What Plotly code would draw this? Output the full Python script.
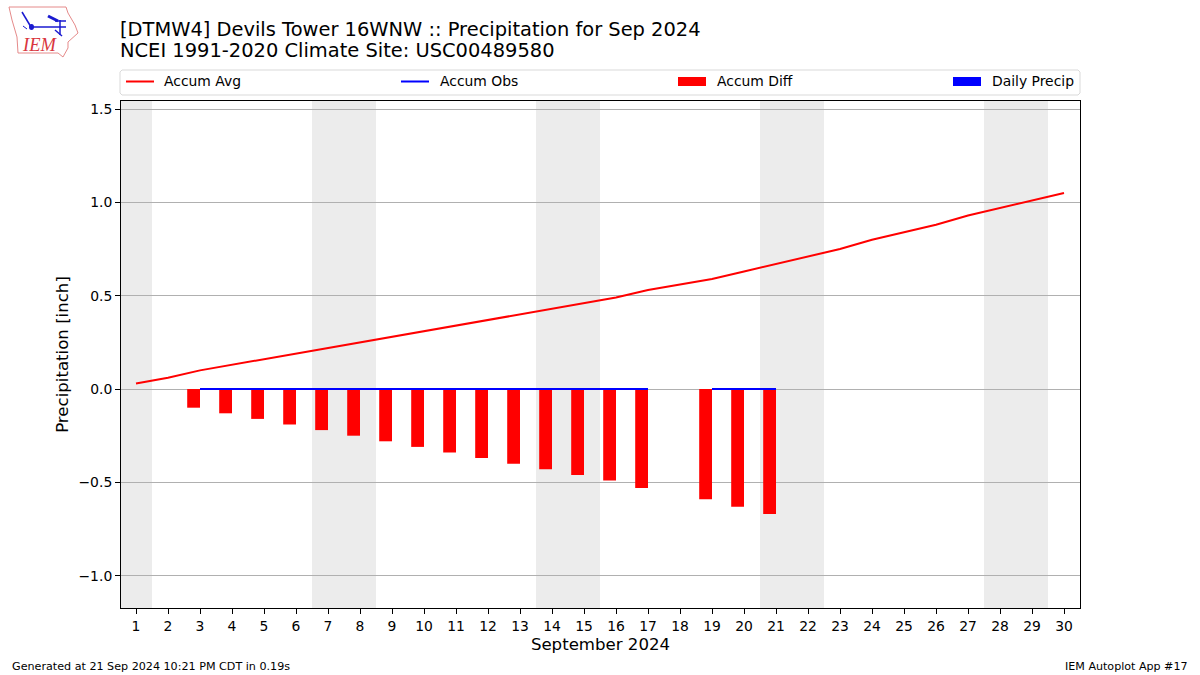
import plotly.graph_objects as go

W, H = 1200, 675
L, R, T, B = 121, 1080, 101, 608
FONT = "DejaVu Sans"

days = list(range(1, 31))
tick_days = days
accum_avg = [0.03, 0.06, 0.10, 0.13, 0.16, 0.19, 0.22, 0.25, 0.28, 0.31,
             0.34, 0.37, 0.40, 0.43, 0.46, 0.49, 0.53, 0.56, 0.59, 0.63,
             0.67, 0.71, 0.75, 0.80, 0.84, 0.88, 0.93, 0.97, 1.01, 1.05]
accum_obs = [None, None, 0, 0, 0, 0, 0, 0, 0, 0,
             0, 0, 0, 0, 0, 0, 0, None, 0, 0,
             0, None, None, None, None, None, None, None, None, None]
accum_diff = [None, None, -0.10, -0.13, -0.16, -0.19, -0.22, -0.25, -0.28, -0.31,
              -0.34, -0.37, -0.40, -0.43, -0.46, -0.49, -0.53, None, -0.59, -0.63,
              -0.67, None, None, None, None, None, None, None, None, None]
daily_precip = [None, None, 0, 0, 0, 0, 0, 0, 0, 0,
                0, 0, 0, 0, 0, 0, 0, None, 0, 0,
                0, None, None, None, None, None, None, None, None, None]
weekends = [(0.5, 1.5), (6.5, 8.5), (13.5, 15.5), (20.5, 22.5), (27.5, 29.5)]
y_ticks = [-1.0, -0.5, 0.0, 0.5, 1.0, 1.5]
title_lines = ["[DTMW4] Devils Tower 16WNW :: Precipitation for Sep 2024",
               "NCEI 1991-2020 Climate Site: USC00489580"]
legend_items = [("Accum Avg", "line", "#ff0000", 126, 162.5),
                ("Accum Obs", "line", "#0000ff", 401, 438.5),
                ("Accum Diff", "box", "#ff0000", 678, 715.5),
                ("Daily Precip", "box", "#0000ff", 953, 990.5)]


def px(x):
    return x / W


def py(y):
    return 1 - y / H


# paper coordinates relative to plot area
def ax_x(x):
    return (x - L) / (R - L)


def ax_y(y):
    return (B - y) / (B - T)


def path(points, close=False):
    s = "M" + " L".join(f"{ax_x(x):.5f},{ax_y(y):.5f}" for x, y in points)
    return s + (" Z" if close else "")


fig = go.Figure()
fig.add_bar(x=days, y=accum_diff, name="Accum Diff", marker_color="#ff0000",
            marker_line_width=0, width=0.4, offset=-0.4, showlegend=False)
fig.add_bar(x=days, y=daily_precip, name="Daily Precip", marker_color="#0000ff",
            marker_line_width=0, width=0.4, offset=0, showlegend=False)
fig.add_scatter(x=days, y=accum_avg, name="Accum Avg", mode="lines",
                line=dict(color="#ff0000", width=2), showlegend=False)
fig.add_scatter(x=days, y=accum_obs, name="Accum Obs", mode="lines",
                line=dict(color="#0000ff", width=2), showlegend=False)

shapes = []
for a, b in weekends:
    shapes.append(dict(type="rect", xref="x", yref="paper", x0=a, x1=b, y0=0, y1=1,
                       fillcolor="#ececec", line_width=0, layer="below"))

# legend frame
shapes.append(dict(type="path", xref="paper", yref="paper", layer="above",
                   path=path([(122, 70), (1078, 70), (1080, 72), (1080, 93), (1078, 95),
                              (122, 95), (120, 93), (120, 72)], True),
                   line=dict(color="#d9d9d9", width=1), fillcolor="white"))
annotations = []
for label, kind, color, x0, xt in legend_items:
    if kind == "line":
        shapes.append(dict(type="line", xref="paper", yref="paper", layer="above",
                           x0=ax_x(x0), x1=ax_x(x0 + 28), y0=ax_y(81.5), y1=ax_y(81.5),
                           line=dict(color=color, width=2)))
    else:
        shapes.append(dict(type="rect", xref="paper", yref="paper", layer="above",
                           x0=ax_x(x0), x1=ax_x(x0 + 28), y0=ax_y(77), y1=ax_y(86),
                           fillcolor=color, line_width=0))
    annotations.append(dict(text=label, xref="paper", yref="paper", x=ax_x(xt),
                            y=ax_y(81.5), xanchor="left", yanchor="middle", showarrow=False,
                            borderpad=0, font=dict(family=FONT, size=13.9, color="black")))

# logo
outline = [(9, 7), (66, 7), (68, 13), (75, 25), (78, 33), (68, 42), (68, 48),
           (63, 57), (58, 53), (18, 53), (17, 37), (12, 20)]
shapes.append(dict(type="path", xref="paper", yref="paper", layer="above",
                   path=path(outline, True), line=dict(color="#e58a8a", width=1)))
for pts, w in [([(31, 27), (66, 27)], 1.5), ([(31, 27), (22, 12)], 1.5), ([(60, 20), (60, 35)], 1.5),
               ([(48, 16), (58, 21)], 3), ([(55, 21), (66, 21)], 1.5), ([(23, 26), (27, 29)], 1),
               ([(55, 30), (62, 36)], 1.5)]:
    shapes.append(dict(type="path", xref="paper", yref="paper", layer="above",
                       path=path(pts), line=dict(color="#1a1ad0", width=w)))
shapes.append(dict(type="circle", xref="paper", yref="paper", layer="above",
                   x0=ax_x(29), x1=ax_x(34), y0=ax_y(24), y1=ax_y(30),
                   fillcolor="#1a1ad0", line_width=0))
annotations.append(dict(text="<i>IEM</i>", xref="paper", yref="paper", x=ax_x(21), y=ax_y(45),
                        xanchor="left", yanchor="middle", showarrow=False, borderpad=0,
                        font=dict(family="Liberation Serif", size=18.5, color="#d9363e")))

annotations.append(dict(text=title_lines[1], xref="paper", yref="paper", x=ax_x(119), y=ax_y(50.5),
                        xanchor="left", yanchor="middle", showarrow=False, borderpad=0,
                        font=dict(family=FONT, size=19.45, color="black")))
annotations.append(dict(text="Generated at 21 Sep 2024 10:21 PM CDT in 0.19s", xref="paper", yref="paper",
                        x=ax_x(10.5), y=ax_y(666), xanchor="left", yanchor="middle", showarrow=False,
                        borderpad=0, font=dict(family=FONT, size=11.15, color="black")))
annotations.append(dict(text="IEM Autoplot App #17", xref="paper", yref="paper",
                        x=ax_x(1189), y=ax_y(666), xanchor="right", yanchor="middle", showarrow=False,
                        borderpad=0, font=dict(family=FONT, size=11.1, color="black")))

fig.update_layout(
    width=W, height=H, autosize=False,
    margin=dict(l=L, r=W - R, t=T, b=H - B, pad=0),
    paper_bgcolor="white", plot_bgcolor="white",
    font=dict(family=FONT, size=14, color="black"),
    barmode="overlay", showlegend=False, hovermode=False,
    title=dict(text=title_lines[0], x=px(120), y=py(29), xanchor="left", yanchor="middle",
               xref="container", font=dict(family=FONT, size=19.45, color="black")),
    shapes=shapes, annotations=annotations,
    xaxis=dict(range=[0.53125, 30.5], tickmode="array", tickvals=tick_days,
               ticktext=[str(d) for d in tick_days], ticks="outside", ticklen=5, tickwidth=1,
               tickcolor="black", showgrid=False, zeroline=False, showline=True,
               linecolor="black", linewidth=1, mirror=True,
               tickfont=dict(family=FONT, size=13.9),
               title=dict(text="September 2024", standoff=5,
                          font=dict(family=FONT, size=16.6))),
    yaxis=dict(range=[-1.173, 1.543], tickmode="array", tickvals=y_ticks,
               ticktext=[f"{v:.1f}".replace("-", "\u2212") for v in y_ticks], ticks="outside",
               ticklen=5, tickwidth=1, tickcolor="black", showgrid=True, gridcolor="#b0b0b0",
               gridwidth=1, zeroline=False, showline=True, linecolor="black", linewidth=1,
               mirror=True, tickfont=dict(family=FONT, size=13.9),
               title=dict(text="Precipitation [inch]", standoff=5,
                          font=dict(family=FONT, size=16.6))),
)

fig.write_html("out.html", config={"displayModeBar": False},
               post_script="document.body.style.margin='0';")
